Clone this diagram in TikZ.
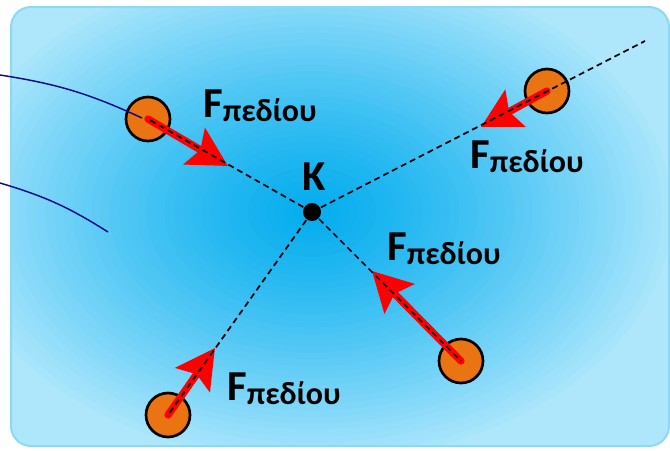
\documentclass[tikz,border=0pt]{standalone}
\usepackage{fontspec}
\setmainfont{Carlito}
\usetikzlibrary{arrows.meta}
\definecolor{skyDeep}{HTML}{05ADEE}
\definecolor{skyPale}{HTML}{AEE7FC}
\definecolor{skyEdge}{HTML}{8CD8F5}
\definecolor{chargeOrange}{HTML}{EA7412}
\definecolor{fieldNavy}{HTML}{0B0B8A}
\tikzset{
  charge/.style={circle, draw=black, line width=2pt, fill=chargeOrange, minimum size=33pt, inner sep=0pt},
  centre/.style={circle, fill=black, minimum size=13.5pt, inner sep=0pt},
  force/.style={red, line width=5.5pt, line cap=round,
    -{Stealth[length=29pt, width=31pt, inset=5pt, line cap=butt, line join=miter]}},
  guide/.style={black, line width=1.3pt, dash pattern=on 4.5pt off 3pt},
  fieldline/.style={fieldNavy, line width=1.1pt},
  flabel/.style={anchor=base west, inner sep=0pt, font=\fontsize{32}{36}\selectfont\bfseries},
}
\newcommand{\Fpedio}{F\raisebox{-3pt}{\fontsize{24}{28}\selectfont\bfseries πεδίου}}
\begin{document}
\begin{tikzpicture}[x=0.75pt, y=-0.75pt]
\useasboundingbox (0,0) rectangle (670,450);
\coordinate (Kc) at (312,212);
% background plate
\begin{scope}
  \clip[rounded corners=15pt] (11,7) rectangle (669,446);
  \fill[skyPale] (0,0) rectangle (670,450);
  \foreach \k in {40,39,...,1} {
    \pgfmathtruncatemacro{\p}{min(100,100*(\k/40)^1.25)}
    \fill[skyPale!\p!skyDeep] (Kc) ellipse [x radius=9.2*\k, y radius=6.4*\k];
  }
\end{scope}
\draw[skyEdge, line width=1.5pt, rounded corners=15pt] (11,7) rectangle (669,446);

% point K and the charges
\node[centre] (K) at (Kc) {};
\node[flabel, anchor=base] (Klab) at (314,190) {K};
\node[charge] (q1) at (148,119) {};
\node[charge] (q2) at (547,91) {};
\node[charge] (q3) at (168,415) {};
\node[charge] (q4) at (461,361) {};

% field lines
\coordinate (f1) at (0,75);
\coordinate (f1e) at (142,118);
\coordinate (f2) at (0,183);
\coordinate (f2e) at (108,232);
\draw[fieldline] (f1) to[bend left=8] (f1e);
\draw[fieldline] (f2) to[bend left=8] (f2e);

% force tips
\coordinate (t1) at (228,166);
\coordinate (t2) at (481,127);
\coordinate (t3) at (215,348);
\coordinate (t4) at (372,271);
\coordinate (far) at (645,41);
\foreach \i in {1,...,4}
  \draw[force] (q\i.center) -- (t\i);

% lines through K
\foreach \i in {1,3,4}
  \draw[guide] (K.center) -- (q\i.center);
\draw[guide] (K.center) -- (far);

% labels
\node[flabel] (F1) at (203,117) {\Fpedio};
\node[flabel] (F2) at (470,168) {\Fpedio};
\node[flabel] (F3) at (227,400) {\Fpedio};
\node[flabel] (F4) at (387,260) {\Fpedio};
\end{tikzpicture}
\end{document}
